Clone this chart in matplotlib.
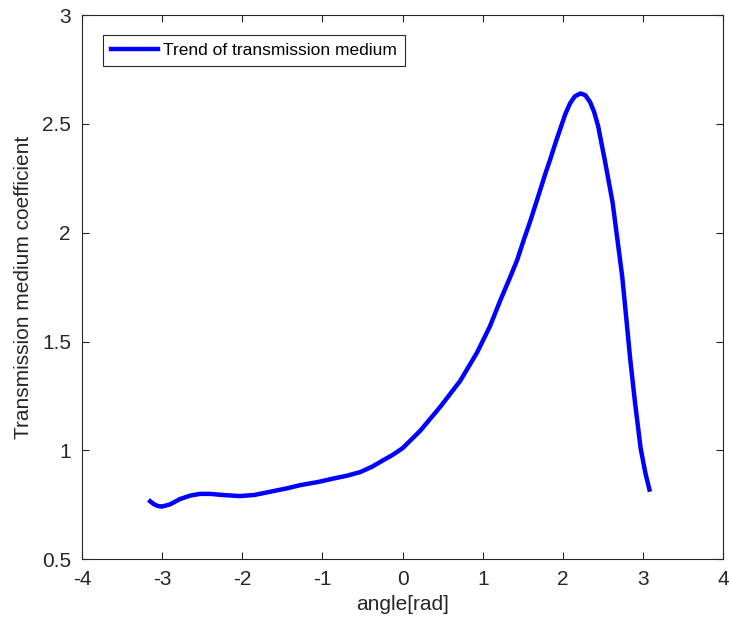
import matplotlib
matplotlib.use("Agg")
import matplotlib.pyplot as plt

# values
angle = [-3.15, -3.1, -3.05, -3.0, -2.9, -2.78, -2.65, -2.53, -2.4, -2.25,
         -2.03, -1.85, -1.65, -1.45, -1.28, -1.05, -0.87, -0.7, -0.53, -0.38,
         -0.24, -0.12, 0.0, 0.22, 0.47, 0.72, 0.93, 1.09, 1.22, 1.33,
         1.43, 1.51, 1.59, 1.66, 1.72, 1.78, 1.84, 1.91, 1.97, 2.03,
         2.09, 2.15, 2.22, 2.28, 2.34, 2.39, 2.44, 2.53, 2.62, 2.68,
         2.74, 2.78, 2.84, 2.90, 2.97, 3.03, 3.08]
coef = [0.766, 0.752, 0.744, 0.742, 0.752, 0.776, 0.792, 0.80, 0.80, 0.795,
        0.79, 0.795, 0.81, 0.825, 0.84, 0.855, 0.87, 0.883, 0.90, 0.925,
        0.955, 0.98, 1.01, 1.09, 1.20, 1.32, 1.45, 1.57, 1.69, 1.785,
        1.875, 1.965, 2.05, 2.13, 2.20, 2.27, 2.335, 2.415, 2.48, 2.545,
        2.595, 2.627, 2.64, 2.632, 2.60, 2.555, 2.49, 2.32, 2.14, 1.97,
        1.80, 1.65, 1.42, 1.22, 1.01, 0.895, 0.82]

xticks = [-4, -3, -2, -1, 0, 1, 2, 3, 4]
yticks = [0.5, 1, 1.5, 2, 2.5, 3]

plt.rcParams['font.family'] = ['Liberation Sans', 'DejaVu Sans']
dark = '#262626'

fig = plt.figure(figsize=(7.29, 6.29), dpi=100)
ax = fig.add_axes([0.1125, 0.111, 0.8795, 0.865])
ax.plot(angle, coef, color='#0000ff', linewidth=3.2,
        solid_joinstyle='round', label='Trend of transmission medium')

ax.set_xlim(-4, 4)
ax.set_ylim(0.5, 3)
ax.set_xticks(xticks)
ax.set_yticks(yticks)
ax.set_xticklabels([str(t) for t in xticks])
ax.set_yticklabels(['0.5', '1', '1.5', '2', '2.5', '3'])
ax.tick_params(direction='in', top=True, right=True, length=5,
               width=0.8, colors=dark, labelsize=15, pad=8)
for sp in ax.spines.values():
    sp.set_color(dark)
    sp.set_linewidth(0.8)

ax.set_xlabel('angle[rad]', fontsize=15, color=dark, labelpad=4)
ax.set_ylabel('Transmission medium coefficient', fontsize=15, color=dark,
              labelpad=6)

leg = ax.legend(loc='upper left', bbox_to_anchor=(0.033, 0.963),
                borderaxespad=0, fancybox=False, framealpha=1,
                edgecolor=dark, fontsize=12.5, handlelength=2.7,
                handletextpad=0.3, borderpad=0.45)
leg.get_frame().set_linewidth(0.8)

fig.savefig('out.png', dpi=100)
